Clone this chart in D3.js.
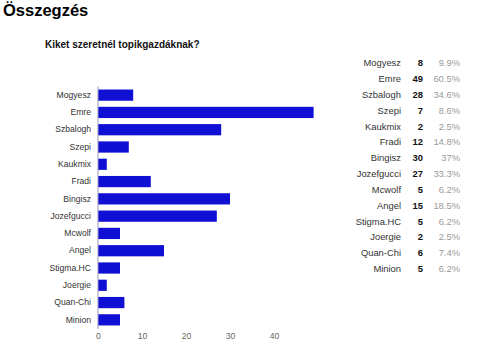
<!DOCTYPE html>
<html><head><meta charset="utf-8">
<script src="https://cdn.jsdelivr.net/npm/d3@7"></script>
<style>body{margin:0;background:#fff;}svg{display:block;font-family:"Liberation Sans",Arial,sans-serif;}</style>
</head><body>
<script>
const categories = ["Mogyesz","Emre","Szbalogh","Szepi","Kaukmix","Fradi","Bingisz","Jozefgucci","Mcwolf","Angel","Stigma.HC","Joergie","Quan-Chi","Minion"];
const counts = [8,49,28,7,2,12,30,27,5,15,5,2,6,5];
const percents = ["9.9%","60.5%","34.6%","8.6%","2.5%","14.8%","37%","33.3%","6.2%","18.5%","6.2%","2.5%","7.4%","6.2%"];
const xTicks = [0,10,20,30,40];
const title = "Összegzés";
const question = "Kiket szeretnél topikgazdáknak?";

const svg = d3.select("body").append("svg").attr("width",500).attr("height",356);

svg.append("text").attr("x",3).attr("y",16).attr("font-size",16.5).attr("font-weight","bold").attr("fill","#000").text(title);
svg.append("text").attr("x",45).attr("y",48).attr("font-size",10).attr("font-weight","bold").attr("fill","#111").text(question);

const x = d3.scaleLinear().domain([0,40]).range([98,274]);
const y = d3.scaleBand().domain(categories).range([86.5,328.5]).paddingInner(0.35).paddingOuter(0.175);

svg.selectAll("rect.bar").data(categories).join("rect").attr("class","bar")
  .attr("x",x(0)).attr("y",d=>y(d))
  .attr("width",(d,i)=>x(counts[i])-x(0)).attr("height",y.bandwidth())
  .attr("fill","#1010d4");

// y axis
const yAxis = svg.append("g").attr("transform",`translate(${x(0)},0)`).call(d3.axisLeft(y).tickSize(0).tickPadding(7));
yAxis.select(".domain").attr("stroke","#9999bb").attr("d",`M0,86.5V329`);
yAxis.selectAll("text").attr("font-size",8.6).attr("fill","#333").attr("font-family","Liberation Sans, Arial, sans-serif");

// x axis labels
const xAxis = svg.append("g").attr("transform","translate(0,329)").call(d3.axisBottom(x).tickValues(xTicks).tickSize(0).tickPadding(4));
xAxis.select(".domain").remove();
xAxis.selectAll("text").attr("font-size",8.6).attr("fill","#666").attr("font-family","Liberation Sans, Arial, sans-serif");

// table
const ty = d3.scalePoint().domain(categories).range([63,268.7]);
const tbl = svg.append("g").attr("font-size",9.4);
tbl.selectAll("text.n").data(categories).join("text").attr("class","n")
  .attr("x",401).attr("y",d=>ty(d)).attr("dy","0.35em").attr("text-anchor","end").attr("fill","#333").text(d=>d);
tbl.selectAll("text.c").data(categories).join("text").attr("class","c")
  .attr("x",423).attr("y",d=>ty(d)).attr("dy","0.35em").attr("text-anchor","end").attr("font-weight","bold").attr("fill","#111").text((d,i)=>counts[i]);
tbl.selectAll("text.p").data(categories).join("text").attr("class","p")
  .attr("x",460).attr("y",d=>ty(d)).attr("dy","0.35em").attr("text-anchor","end").attr("fill","#999").text((d,i)=>percents[i]);
</script>
</body></html>
